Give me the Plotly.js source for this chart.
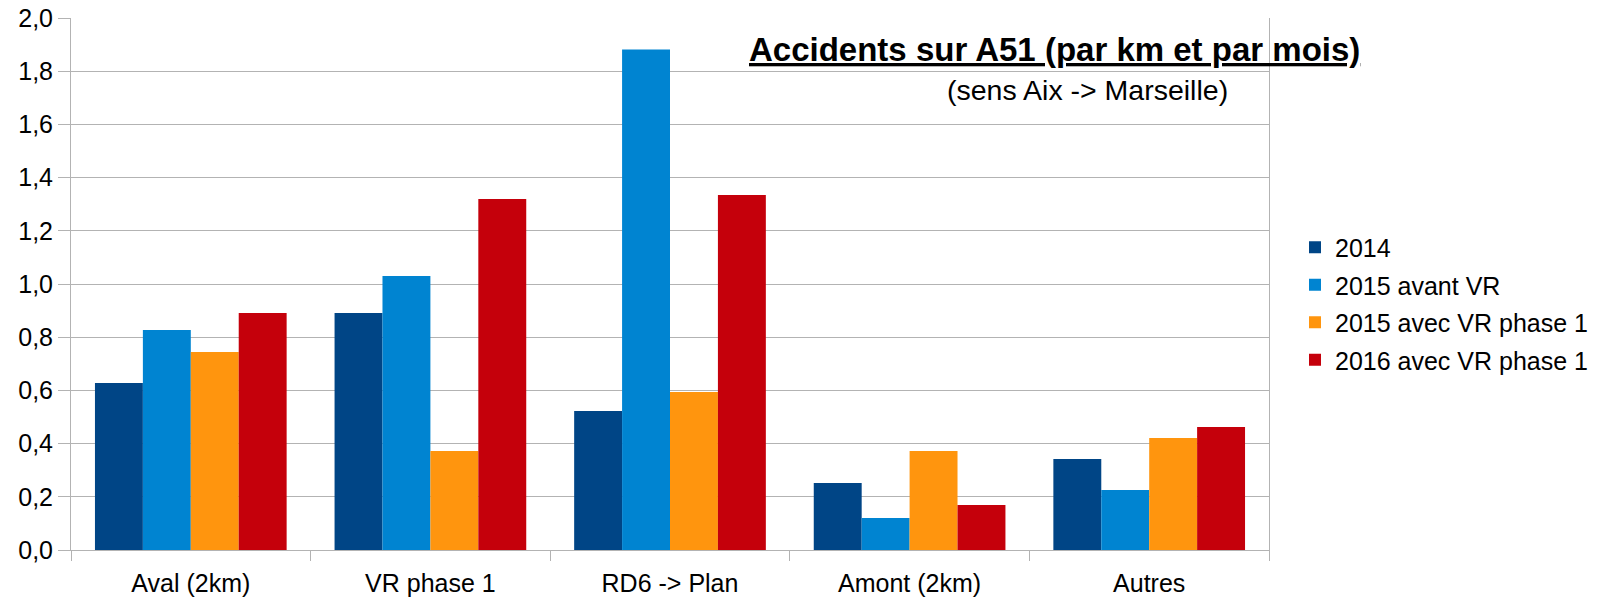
<!DOCTYPE html>
<html>
<head>
<meta charset="utf-8">
<script src="https://cdn.plot.ly/plotly-3.0.1.min.js"></script>
<style>html,body{margin:0;padding:0;background:#fff;}#chart{width:1610px;height:599px;}</style>
</head>
<body>
<div id="chart"></div>
<script>
const categories = ["Aval (2km)", "VR phase 1", "RD6 -> Plan", "Amont (2km)", "Autres"];
const seriesNames = ["2014", "2015 avant VR", "2015 avec VR phase 1", "2016 avec VR phase 1"];
const v2014 = [0.628, 0.891, 0.523, 0.252, 0.342];
const v2015avant = [0.827, 1.030, 1.882, 0.120, 0.226];
const v2015avec = [0.744, 0.372, 0.594, 0.372, 0.421];
const v2016 = [0.891, 1.320, 1.335, 0.169, 0.462];
const colors = ["#004586", "#0084d1", "#ff950e", "#c5000b"];
const yTickVals = [0, 0.2, 0.4, 0.6, 0.8, 1.0, 1.2, 1.4, 1.6, 1.8, 2.0];
const titleText = "Accidents sur A51 (par km et par mois)";
const subtitleText = "(sens Aix -> Marseille)";

const FONT = "Liberation Sans, Arial, sans-serif";
const W = 1610, H = 599;
const L = 71, R = 1269, T = 18, B = 550;
const PW = R - L, PH = B - T;

const allValues = [v2014, v2015avant, v2015avec, v2016];
const traces = allValues.map((vals, i) => ({
  type: "bar",
  name: seriesNames[i],
  x: categories,
  y: vals,
  marker: {color: colors[i], line: {width: 0}},
  legendgroup: "g" + i,
  hoverinfo: "x+y+name"
}));

const layout = {
  width: W, height: H,
  margin: {l: L, r: W - R, t: T, b: H - B, pad: 0},
  paper_bgcolor: "#ffffff",
  plot_bgcolor: "#ffffff",
  separators: ",.",
  font: {family: FONT, color: "#000000", size: 25},
  barmode: "group",
  bargap: 0.2,
  bargroupgap: 0,
  showlegend: true,
  legend: {
    x: (1295 - L) / PW, xanchor: "left",
    y: 1 - (303.5 - T) / PH, yanchor: "middle",
    font: {family: FONT, size: 25, color: "#000"},
    traceorder: "grouped",
    tracegroupgap: 2,
    itemwidth: 30,
    bgcolor: "rgba(0,0,0,0)",
    borderwidth: 0
  },
  xaxis: {
    type: "category",
    tickson: "boundaries",
    ticks: "outside",
    ticklen: 10,
    tickcolor: "#b3b3b3",
    tickwidth: 1,
    ticklabelstandoff: 11,
    showline: true,
    linecolor: "#b3b3b3",
    linewidth: 1,
    showgrid: false,
    tickfont: {family: FONT, size: 25, color: "#000"},
    fixedrange: true
  },
  yaxis: {
    range: [0, 2.0],
    tickvals: yTickVals,
    tickformat: ".1f",
    ticks: "outside",
    ticklen: 12,
    tickcolor: "#b3b3b3",
    tickwidth: 1,
    showgrid: true,
    gridcolor: "#b3b3b3",
    gridwidth: 1,
    zeroline: false,
    showline: true,
    mirror: true,
    linecolor: "#b3b3b3",
    linewidth: 1,
    tickfont: {family: FONT, size: 25, color: "#000"},
    fixedrange: true
  },
  annotations: [
    {
      xref: "paper", yref: "paper",
      x: (1054 - L) / PW, y: 1 - (49 - T) / PH,
      xanchor: "center", yanchor: "middle",
      text: "<b><u>" + titleText + "</u></b>",
      showarrow: false,
      font: {family: FONT, size: 33, color: "#000"}
    },
    {
      xref: "paper", yref: "paper",
      x: (1087 - L) / PW, y: 1 - (90 - T) / PH,
      xanchor: "center", yanchor: "middle",
      text: subtitleText,
      showarrow: false,
      font: {family: FONT, size: 28.5, color: "#000"}
    }
  ]
};

Plotly.newPlot("chart", traces, layout, {displayModeBar: false, staticPlot: true});
</script>
</body>
</html>
